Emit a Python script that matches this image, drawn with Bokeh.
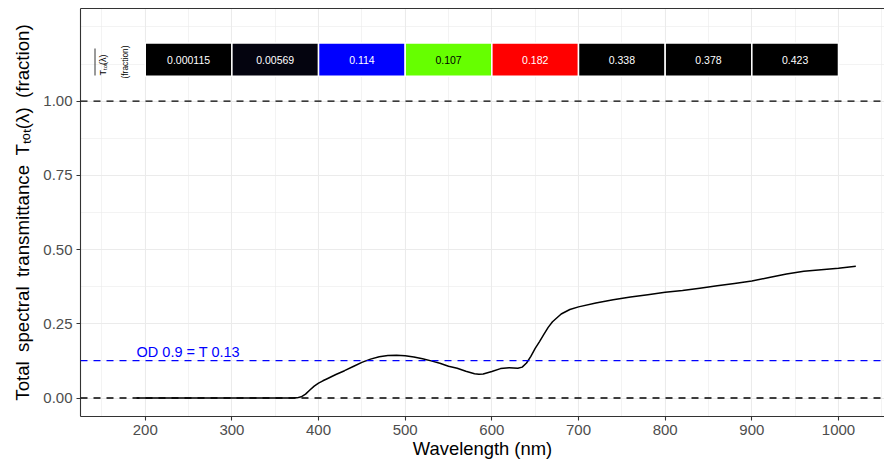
import math
from bokeh.plotting import figure
from bokeh.models import Range1d, FixedTicker, Span, Label, PrintfTickFormatter, LinearAxis
from bokeh.embed import file_html
from bokeh.resources import INLINE
from bokeh.core.properties import value

# ---------------- data ----------------
wavelength = [190, 200, 250, 300, 350, 370, 375, 380, 385, 390, 395, 400, 405, 410,
              420, 430, 440, 450, 460, 470, 480, 490, 500, 510, 520, 530, 540, 550,
              560, 570, 580, 585, 590, 600, 610, 620, 630, 635, 640, 645, 650, 655,
              660, 665, 670, 680, 690, 700, 720, 740, 760, 780, 800, 820, 840, 860,
              880, 900, 920, 940, 960, 980, 1000, 1020]
transmittance = [0.0, 0.0, 0.0, 0.0, 0.0, 0.0, 0.0005, 0.004, 0.013, 0.027, 0.040, 0.050,
                 0.058, 0.065, 0.079, 0.092, 0.106, 0.120, 0.131, 0.139, 0.143, 0.144,
                 0.142, 0.138, 0.132, 0.125, 0.117, 0.107, 0.100, 0.090, 0.082, 0.080,
                 0.081, 0.089, 0.099, 0.102, 0.100, 0.104, 0.118, 0.140, 0.167, 0.190,
                 0.214, 0.238, 0.257, 0.283, 0.298, 0.307, 0.320, 0.331, 0.340, 0.348,
                 0.356, 0.362, 0.370, 0.378, 0.386, 0.394, 0.406, 0.418, 0.427, 0.432,
                 0.437, 0.444]

band_lo = [200, 300, 400, 500, 600, 700, 800, 900]
band_hi = [300, 400, 500, 600, 700, 800, 900, 1000]
band_mean = ["0.000115", "0.00569", "0.114", "0.107", "0.182", "0.338", "0.378", "0.423"]
band_fill = ["#000000", "#04040f", "#0000ff", "#66ff00", "#ff0000", "#000000", "#000000", "#000000"]
band_text_color = ["white", "white", "white", "black", "white", "white", "white", "white"]

od_value = 0.9
x_ticks = [200, 300, 400, 500, 600, 700, 800, 900, 1000]
x_minor = [150, 250, 350, 450, 550, 650, 750, 850, 950, 1050]
y_ticks = [0.0, 0.25, 0.5, 0.75, 1.0]
y_minor = [0.125, 0.375, 0.625, 0.875, 1.125, 1.25]

x_title = "Wavelength (nm)"
y_title = "Total\u2002spectral\u2002transmittance\u2002T\u209c\u2092\u209c(\u03bb)\u2002(fraction)"

# ---------------- geometry ----------------
X0, X1 = 125.3, 1053.1
Y0, Y1 = -0.0623, 1.312
FL, FT, FW, FH = 80, 8, 804, 408
FONT = "Liberation Sans"
BORDER = "#333333"


def px_x(px):
    return X0 + (px - FL) / FW * (X1 - X0)


def px_y(py):
    return Y1 - (py - FT) / FH * (Y1 - Y0)


p = figure(frame_width=FW, frame_height=FH, x_range=Range1d(X0, X1), y_range=Range1d(Y0, Y1),
           output_backend="svg", toolbar_location=None,
           min_border_left=FL, min_border_right=0, min_border_top=FT, min_border_bottom=461 - FT - FH)
p.background_fill_color = "white"
p.border_fill_color = "white"
p.outline_line_color = None

xt = FixedTicker(ticks=x_ticks, minor_ticks=x_minor)
yt = FixedTicker(ticks=y_ticks, minor_ticks=y_minor)
p.xaxis.ticker = xt
p.yaxis.ticker = yt
p.xgrid.ticker = xt
p.ygrid.ticker = yt
p.yaxis.formatter = PrintfTickFormatter(format="%.2f")

for g in (p.xgrid, p.ygrid):
    g.grid_line_color = "#ebebeb"
    g.grid_line_width = 1.1
    g.minor_grid_line_color = "#ebebeb"
    g.minor_grid_line_width = 0.6

for ax in (p.xaxis, p.yaxis):
    ax.axis_line_color = BORDER
    ax.axis_line_width = 1.1
    ax.major_tick_line_color = BORDER
    ax.major_tick_line_width = 1.1
    ax.major_tick_out = 4
    ax.major_tick_in = 0
    ax.minor_tick_line_color = None
    ax.major_label_text_font_size = "15px"
    ax.major_label_text_color = "#4d4d4d"
    ax.major_label_text_font = FONT
    ax.axis_label_text_font = FONT
    ax.axis_label_text_font_style = "normal"
    ax.axis_label_text_color = "black"
p.xaxis.major_label_standoff = 4
p.yaxis.major_label_standoff = 4
p.xaxis.axis_label = x_title
p.xaxis.axis_label_text_font_size = "18.4px"
p.xaxis.axis_label_standoff = 0
p.yaxis.axis_label = y_title
p.yaxis.axis_label_text_font_size = "18.7px"
p.yaxis.axis_label_standoff = 7

# top border of the panel
top = LinearAxis(ticker=FixedTicker(ticks=[]), axis_line_color=BORDER, axis_line_width=1.1,
                 major_tick_out=0, major_tick_in=0, minor_tick_out=0, minor_tick_in=0,
                 major_label_text_font_size="0px", major_label_standoff=0)
p.add_layout(top, "above")

# reference lines
for loc, col in ((0.0, "black"), (1.0, "black"), (10 ** (-od_value), "#0000ff")):
    p.add_layout(Span(location=loc, dimension="width", line_color=col,
                      line_dash="7 6", line_width=1.4))

# curve
p.line(wavelength, transmittance, line_color="black", line_width=1.5)

# band boxes
mids = [(a + b) / 2 for a, b in zip(band_lo, band_hi)]
p.quad(left=band_lo, right=band_hi, bottom=1.084, top=1.196, fill_color=band_fill,
       line_color="white", line_width=1.5)
p.text(x=mids, y=[1.14] * len(mids), text=band_mean, text_color=band_text_color,
       text_font_size="10.5px", text_align="center", text_baseline="middle",
       text_font=value(FONT))

# OD annotation
p.add_layout(Label(x=wavelength[0], y=px_y(351), text=f"OD {od_value} = T {10 ** -od_value:.2f}",
                   text_color="#0000ff", text_font_size="14.5px", text_font=FONT,
                   text_align="left", text_baseline="alphabetic"))

# box-row label (rotated)
small = [("T", 75.0, "9px", 0), ("tot", 69.5, "6px", 2), ("(λ)", 64.5, "9px", 0)]
for t, ypx, fs, sh in small:
    p.add_layout(Label(x=px_x(102 + sh), y=px_y(ypx), text=t, angle=math.pi / 2,
                       text_font_size=fs, text_font=FONT, text_color="black",
                       text_align="left", text_baseline="alphabetic"))
p.line([px_x(94.5), px_x(94.5)], [px_y(75), px_y(48)], line_color="black", line_width=0.8)
p.add_layout(Label(x=px_x(124.5), y=px_y(61.5), text="(fraction)", angle=math.pi / 2,
                   text_font_size="8.4px", text_font=FONT, text_color="black",
                   text_align="center", text_baseline="alphabetic"))

open("out.html", "w").write(file_html(p, INLINE))
